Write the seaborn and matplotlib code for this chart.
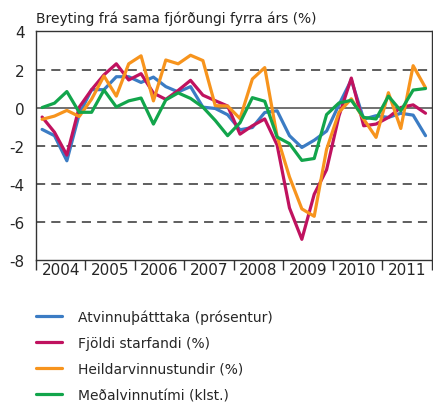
import numpy as np
import pandas as pd
import matplotlib
matplotlib.use("Agg")
import matplotlib.pyplot as plt
import seaborn as sns

# Quarterly data 2004Q1 - 2011Q4, change from same quarter previous year
years = ["2004", "2005", "2006", "2007", "2008", "2009", "2010", "2011"]

atvinnuthatttaka = [-1.15, -1.48, -2.8, -0.35, 0.94, 0.94, 1.62, 1.62,
                    1.32, 1.6, 1.1, 0.82, 1.1, 0.02, -0.05, -0.38,
                    -1.17, -1.05, -0.26, -0.17, -1.48, -2.1, -1.72, -1.24,
                    0.15, 1.45, -0.61, -0.43, -0.52, -0.3, -0.4, -1.48]
fjoldi_starfandi = [-0.5, -1.3, -2.5, 0.02, 0.94, 1.72, 2.3, 1.45,
                    1.78, 0.76, 0.43, 0.9, 1.43, 0.65, 0.36, 0.08,
                    -1.4, -0.96, -0.6, -1.97, -5.28, -6.93, -4.56, -3.27,
                    -0.45, 1.55, -0.96, -0.87, -0.52, 0.0, 0.14, -0.3]
heildarvinnustundir = [-0.62, -0.45, -0.15, -0.47, 0.44, 1.66, 0.6, 2.3,
                       2.72, 0.35, 2.5, 2.3, 2.75, 2.47, 0.1, 0.08,
                       -0.58, 1.5, 2.1, -1.52, -3.65, -5.33, -5.72, -2.2,
                       -0.25, 0.46, -0.61, -1.57, 0.78, -1.1, 2.2, 1.04]
medalvinnutimi = [0.0, 0.23, 0.84, -0.25, -0.25, 0.92, 0.03, 0.35,
                  0.5, -0.87, 0.4, 0.77, 0.48, 0.02, -0.68, -1.48,
                  -0.8, 0.52, 0.33, -1.55, -1.9, -2.78, -2.68, -0.37,
                  0.24, 0.38, -0.52, -0.6, 0.6, -0.17, 0.92, 1.0]

series_names = ["Atvinnuþátttaka (prósentur)", "Fjöldi starfandi (%)",
                "Heildarvinnustundir (%)", "Meðalvinnutími (klst.)"]
colors = ["#3b7cc4", "#c0125f", "#f7941d", "#12a54b"]

# Build long-form table; x is the quarter centre
quarter = np.arange(len(atvinnuthatttaka)) + 0.5
frames = []
for name, vals in zip(series_names, [atvinnuthatttaka, fjoldi_starfandi,
                                     heildarvinnustundir, medalvinnutimi]):
    frames.append(pd.DataFrame({"q": quarter, "val": vals, "series": name}))
df = pd.concat(frames, ignore_index=True)

sns.set_style("white")
plt.rcParams['font.family'] = ['DejaVu Sans']

fig = plt.figure(figsize=(4.33, 4.06), dpi=100)
ax = fig.add_axes([0.083, 0.358, 0.914, 0.562])

# Reference lines
for y in [2, -2, -4, -6]:
    ax.axhline(y, color="#333333", lw=1.1, ls=(0, (6, 4)), zorder=1)
ax.axhline(0, color="#666666", lw=1.3, zorder=1)

sns.lineplot(data=df, x="q", y="val", hue="series", palette=colors,
             hue_order=series_names, lw=2.3, ax=ax, zorder=3, legend=False)

ax.set_xlim(0, 32)
ax.set_ylim(-8, 4)
ax.set_yticks([4, 2, 0, -2, -4, -6, -8])
ax.set_yticklabels(["4", "2", "0", "-2", "-4", "-6", "-8"], fontsize=11)
ax.tick_params(axis="y", length=0, pad=8)

# Year boundaries as ticks, labels centered between them
ax.set_xticks(np.arange(0, 33, 4))
ax.set_xticklabels([])
ax.set_xticks(np.arange(2, 32, 4), minor=True)
ax.set_xticklabels(years, minor=True, fontsize=11)
ax.tick_params(axis="x", which="major", direction="out", length=7,
               width=1, color="#333333", bottom=True)
ax.tick_params(axis="x", which="minor", length=0, pad=2)
ax.set_xlabel("")
ax.set_ylabel("")

for s in ax.spines.values():
    s.set_color("#333333")
    s.set_linewidth(1.0)

fig.text(0.083, 0.955, "Breyting frá sama fjórðungi fyrra árs (%)",
         fontsize=9.9, ha="left", va="center", color="#222222")

# Legend
handles = [plt.Line2D([], [], color=c, lw=2.3) for c in colors]
fig.legend(handles, series_names, loc="upper left",
           bbox_to_anchor=(0.07, 0.25), frameon=False, fontsize=10,
           handlelength=1.85, handletextpad=1.15, labelspacing=0.88,
           borderaxespad=0)

fig.savefig("out.png", dpi=100)
